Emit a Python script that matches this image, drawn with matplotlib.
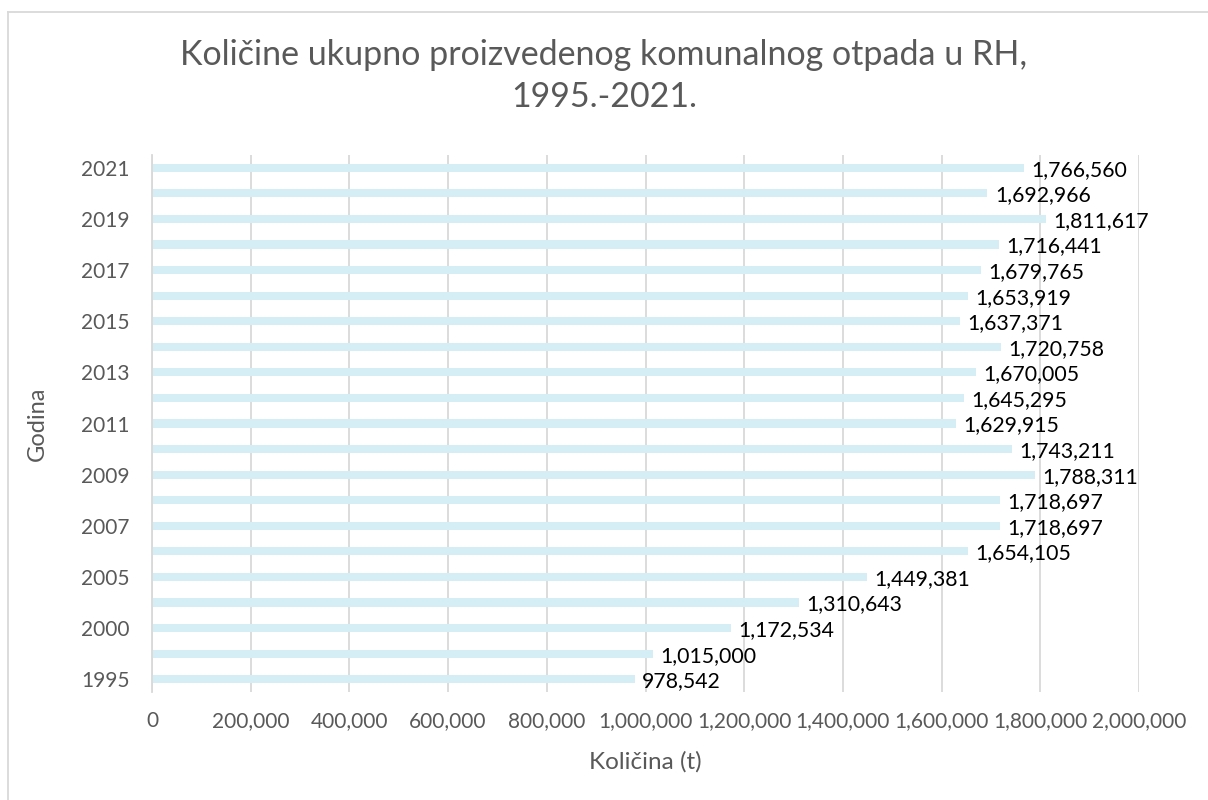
import matplotlib
matplotlib.use("Agg")
import matplotlib.pyplot as plt
from matplotlib.ticker import FuncFormatter
from matplotlib.lines import Line2D

years = ["1995", "1998", "2000", "2004", "2005", "2006", "2007", "2008", "2009", "2010",
         "2011", "2012", "2013", "2014", "2015", "2016", "2017", "2018", "2019", "2020", "2021"]
values = [978542, 1015000, 1172534, 1310643, 1449381, 1654105, 1718697, 1718697, 1788311,
          1743211, 1629915, 1645295, 1670005, 1720758, 1637371, 1653919, 1679765, 1716441,
          1811617, 1692966, 1766560]
xticks = [0, 200000, 400000, 600000, 800000, 1000000, 1200000, 1400000, 1600000, 1800000, 2000000]

plt.rcParams['font.family'] = ['Lato', 'DejaVu Sans']

W, H = 1208, 800
fig = plt.figure(figsize=(W / 100, H / 100), dpi=100)
ax_l, ax_r, ax_t, ax_b = 152, 1139, 155, 692
ax = fig.add_axes([ax_l / W, 1 - ax_b / H, (ax_r - ax_l) / W, (ax_b - ax_t) / H])

pos = list(range(len(years)))
ax.barh(pos, values, height=0.32, color="#d5edf5", zorder=2)
for p, v in zip(pos, values):
    ax.text(v + 15000, p - 0.08, f"{v:,}", ha="left", va="center", fontsize=15.3,
            color="#000000", zorder=3)

ax.set_xlim(0, 2000000)
ax.set_ylim(-0.5, len(years) - 0.5)
ax.set_xticks(xticks)
ax.xaxis.set_major_formatter(FuncFormatter(lambda x, _: f"{int(x):,}"))
ax.set_yticks(pos)
ax.set_yticklabels([y if i % 2 == 0 else "" for i, y in enumerate(years)])
ax.tick_params(axis="both", length=0, labelsize=15, labelcolor="#595959")
ax.tick_params(axis="x", pad=14)
ax.tick_params(axis="y", pad=16)
ax.grid(axis="x", color="#d9d9d9", linewidth=1.3, zorder=0)
for s in ["top", "right", "bottom"]:
    ax.spines[s].set_visible(False)
ax.spines["left"].set_color("#d9d9d9")
ax.spines["left"].set_linewidth(1.3)

ax.set_xlabel("Količina (t)", fontsize=17.5, color="#595959")
ax.set_ylabel("Godina", fontsize=17, color="#595959")
ax_w, ax_h = ax_r - ax_l, ax_b - ax_t
ax.xaxis.set_label_coords(0.5, -(762 - ax_b) / ax_h)
ax.xaxis.label.set_va("center")
ax.yaxis.set_label_coords(-(ax_l - 37) / ax_w, 0.5)
ax.yaxis.label.set_va("center")
ax.yaxis.label.set_ha("center")

fig.text(0.5, 1 - 55 / H, "Količine ukupno proizvedenog komunalnog otpada u RH,",
         ha="center", va="center", fontsize=24.5, color="#595959")
fig.text(0.5, 1 - 97 / H, "1995.-2021.",
         ha="center", va="center", fontsize=24.5, color="#595959")

fig.add_artist(Line2D([8 / W, 1.0], [1 - 12 / H, 1 - 12 / H], transform=fig.transFigure,
                      color="#d9d9d9", linewidth=1.3))
fig.add_artist(Line2D([8 / W, 8 / W], [0, 1 - 12 / H], transform=fig.transFigure,
                      color="#d9d9d9", linewidth=1.3))

fig.savefig("out.png", dpi=100, facecolor="white")
